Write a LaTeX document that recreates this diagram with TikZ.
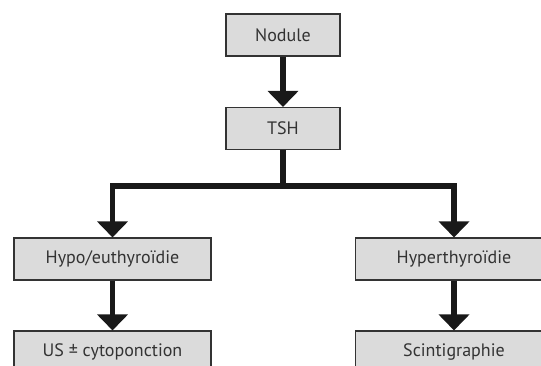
\documentclass[tikz,border=0pt]{standalone}
\usepackage{fontspec}
\setmainfont{PT Sans}
\usetikzlibrary{arrows.meta}

\tikzset{
	stepbox/.style={draw=black!80, line width=1.1pt, fill=black!14, minimum height=42pt, inner sep=0pt, font=\fontsize{18}{20}\selectfont, text=black!80},
	flow/.style={line width=5.5pt, draw=black!90, -{Triangle[width=30pt,length=16pt]}},
}

\begin{document}
\begin{tikzpicture}[x=1pt,y=-1pt]
		\useasboundingbox (0,0) rectangle (541,366);
		\clip (0,0) rectangle (541,366);

		\node[stepbox, minimum width=114pt] (nodule) at (283,35) {Nodule};
		\node[stepbox, minimum width=114pt] (tsh) at (283,128.5) {TSH};
		\node[stepbox, minimum width=197pt] (hypo) at (112.5,259) {Hypo/euthyroïdie};
		\node[stepbox, minimum width=197pt] (hyper) at (454,259) {Hyperthyroïdie};
		\node[stepbox, minimum width=197pt] (us) at (112.5,352) {US ± cytoponction};
		\node[stepbox, minimum width=197pt] (scinti) at (454,352) {Scintigraphie};

		\coordinate (split) at (283,186);

		\draw[flow] (nodule) -- (tsh);
		\foreach \to in {hypo, hyper}{
			\draw[flow] (tsh.south) -- (split) -| (\to.north);
		}
		\draw[flow] (hypo) -- (us);
		\draw[flow] (hyper) -- (scinti);
\end{tikzpicture}
\end{document}
